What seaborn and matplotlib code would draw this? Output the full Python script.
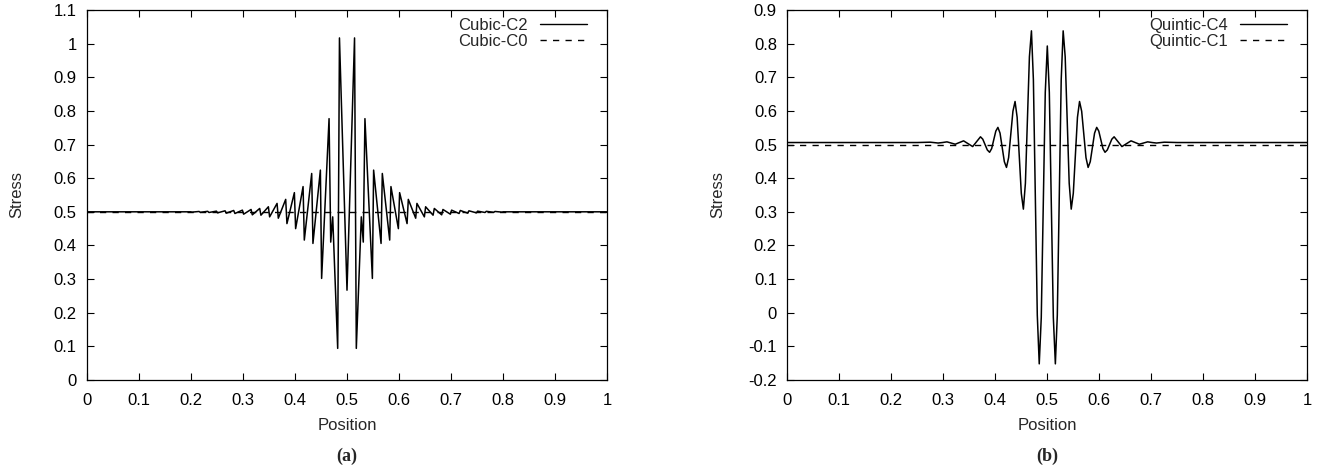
import numpy as np
import pandas as pd
import matplotlib
matplotlib.use("Agg")
import matplotlib.pyplot as plt
import seaborn as sns

# ---------------- data ----------------
# Panel (a): Cubic-C2 stress (left half; curve is mirror-symmetric about x = 0.5)
cubic_c2_x_left = [0.0, 0.2,
                   0.2012, 0.2155, 0.2179, 0.2321, 0.2345, 0.2488, 0.2512, 0.2655,
                   0.2679, 0.2821, 0.2845, 0.2988, 0.3012, 0.3155, 0.3179, 0.3321,
                   0.3345, 0.3488, 0.3512, 0.3655, 0.3679, 0.3821, 0.3845, 0.3988,
                   0.4012, 0.4155, 0.4179, 0.4321, 0.4345, 0.4488, 0.4512, 0.4655,
                   0.4687, 0.4725, 0.4821, 0.4855, 0.5]
cubic_c2_y_left = [0.5, 0.5,
                   0.499, 0.501, 0.4985, 0.5015, 0.498, 0.502, 0.497, 0.503,
                   0.496, 0.504, 0.495, 0.505, 0.493, 0.507, 0.491, 0.510,
                   0.490, 0.515, 0.485, 0.525, 0.481, 0.537, 0.465, 0.557,
                   0.450, 0.575, 0.416, 0.614, 0.406, 0.624, 0.302, 0.777,
                   0.410, 0.485, 0.094, 1.017, 0.267]
cubic_c0_x = [0.0, 1.0]
cubic_c0_y = [0.5, 0.5]

# Panel (b): Quintic-C4 stress (right half, mirror-symmetric about x = 0.5)
quintic_c4_x_right = [0.5, 0.5039, 0.50775, 0.5116, 0.5155, 0.51925, 0.523, 0.52675,
                      0.5305, 0.5344, 0.53825, 0.5421, 0.546, 0.55, 0.554, 0.558,
                      0.562, 0.5661, 0.57025, 0.5744, 0.5785, 0.5826, 0.58675, 0.5909,
                      0.595, 0.599, 0.603, 0.607, 0.611, 0.6154, 0.61975, 0.6241,
                      0.6285, 0.636, 0.6435, 0.65225, 0.661, 0.669, 0.677, 0.685,
                      0.693, 0.7015, 0.71, 0.725, 0.75, 1.0]
quintic_c4_y_right = [0.793, 0.655, 0.3205, -0.014, -0.152, -0.007, 0.343, 0.693,
                      0.838, 0.761, 0.573, 0.385, 0.308, 0.355, 0.468, 0.581,
                      0.628, 0.599, 0.530, 0.461, 0.432, 0.449, 0.4915, 0.534,
                      0.551, 0.540, 0.514, 0.488, 0.477, 0.484, 0.500, 0.516,
                      0.523, 0.5085, 0.494, 0.5025, 0.511, 0.506, 0.501, 0.5045,
                      0.508, 0.506, 0.5045, 0.507, 0.506, 0.506]
quintic_c1_x = [0.0, 1.0]
quintic_c1_y = [0.498, 0.498]

x_ticks = [0, 0.1, 0.2, 0.3, 0.4, 0.5, 0.6, 0.7, 0.8, 0.9, 1]
y_ticks_a = [0, 0.1, 0.2, 0.3, 0.4, 0.5, 0.6, 0.7, 0.8, 0.9, 1, 1.1]
y_ticks_b = [-0.2, -0.1, 0, 0.1, 0.2, 0.3, 0.4, 0.5, 0.6, 0.7, 0.8, 0.9]

# build full symmetric curves from the halves
def mirror_left(xl, yl):
    xl = np.asarray(xl); yl = np.asarray(yl)
    x = np.concatenate([xl, 1.0 - xl[::-1][1:]])
    y = np.concatenate([yl, yl[::-1][1:]])
    return x, y

def mirror_right(xr, yr):
    xr = np.asarray(xr); yr = np.asarray(yr)
    x = np.concatenate([1.0 - xr[::-1], xr[1:]])
    y = np.concatenate([yr[::-1], yr[1:]])
    return x, y

cx, cy = mirror_left(cubic_c2_x_left, cubic_c2_y_left)
qx, qy = mirror_right(quintic_c4_x_right, quintic_c4_y_right)

df_a = pd.concat([
    pd.DataFrame({"Position": cx, "Stress": cy, "series": "Cubic-C2"}),
    pd.DataFrame({"Position": cubic_c0_x, "Stress": cubic_c0_y, "series": "Cubic-C0"}),
], ignore_index=True)
df_b = pd.concat([
    pd.DataFrame({"Position": qx, "Stress": qy, "series": "Quintic-C4"}),
    pd.DataFrame({"Position": quintic_c1_x, "Stress": quintic_c1_y, "series": "Quintic-C1"}),
], ignore_index=True)

# ---------------- style ----------------
sns.set_theme(style="ticks")
plt.rcParams["font.family"] = ["Liberation Sans", "DejaVu Sans"]
plt.rcParams["axes.unicode_minus"] = False
plt.rcParams["axes.linewidth"] = 0.9
plt.rcParams["axes.edgecolor"] = "black"

FS = 12
fig = plt.figure(figsize=(13.28, 4.72), dpi=100)
W, H = 1328.0, 472.0
ax1 = fig.add_axes([87 / W, 92 / H, 520 / W, 370 / H])
ax2 = fig.add_axes([787.3 / W, 92 / H, 520 / W, 370 / H])

dash = (0, (4.5, 4.5))

def draw(ax, df, names, yticks, ylim):
    sub1 = df[df.series == names[0]]
    sub2 = df[df.series == names[1]]
    sns.lineplot(data=sub1, x="Position", y="Stress", ax=ax, color="black",
                 lw=1.1, sort=False, estimator=None, label=names[0])
    sns.lineplot(data=sub2, x="Position", y="Stress", ax=ax, color="black",
                 lw=1.0, sort=False, estimator=None, label=names[1], linestyle=dash)
    ax.lines[1].set_linestyle(dash)
    ax.set_xlim(0, 1)
    ax.set_ylim(*ylim)
    ax.set_xticks(x_ticks)
    ax.set_xticklabels(["{:g}".format(v) for v in x_ticks])
    ax.set_yticks(yticks)
    ax.set_yticklabels(["{:g}".format(v) for v in yticks])
    ax.tick_params(direction="in", top=True, right=True, length=5, width=0.8,
                   labelsize=FS, colors="black")
    ax.tick_params(axis="x", pad=9.5)
    ax.tick_params(axis="y", pad=7.5)
    ax.set_xlabel("Position", fontsize=FS)
    ax.set_ylabel("Stress", fontsize=FS)
    ax.xaxis.set_label_coords(0.5, -0.103)
    ax.yaxis.set_label_coords(-0.12, 0.5)
    for s in ax.spines.values():
        s.set_visible(True)
        s.set_color("black")
    leg = ax.legend(loc="upper right", bbox_to_anchor=(0.9608, 0.979), frameon=False,
                    markerfirst=False, fontsize=FS, handlelength=2.82,
                    handletextpad=0.72, labelspacing=0.08, borderaxespad=0,
                    borderpad=0.0)
    for h in leg.get_lines():
        h.set_linewidth(1.0)
    leg.get_lines()[1].set_linestyle(dash)

draw(ax1, df_a, ["Cubic-C2", "Cubic-C0"], y_ticks_a, (0, 1.1))
draw(ax2, df_b, ["Quintic-C4", "Quintic-C1"], y_ticks_b, (-0.2, 0.9))

fig.text(347 / W, 1 - 456.5 / H, "(a)", ha="center", va="center",
         family=["Liberation Serif", "DejaVu Serif"], weight="bold", fontsize=13)
fig.text(1047.3 / W, 1 - 456.5 / H, "(b)", ha="center", va="center",
         family=["Liberation Serif", "DejaVu Serif"], weight="bold", fontsize=13)

fig.savefig("out.png", dpi=100, facecolor="white")
